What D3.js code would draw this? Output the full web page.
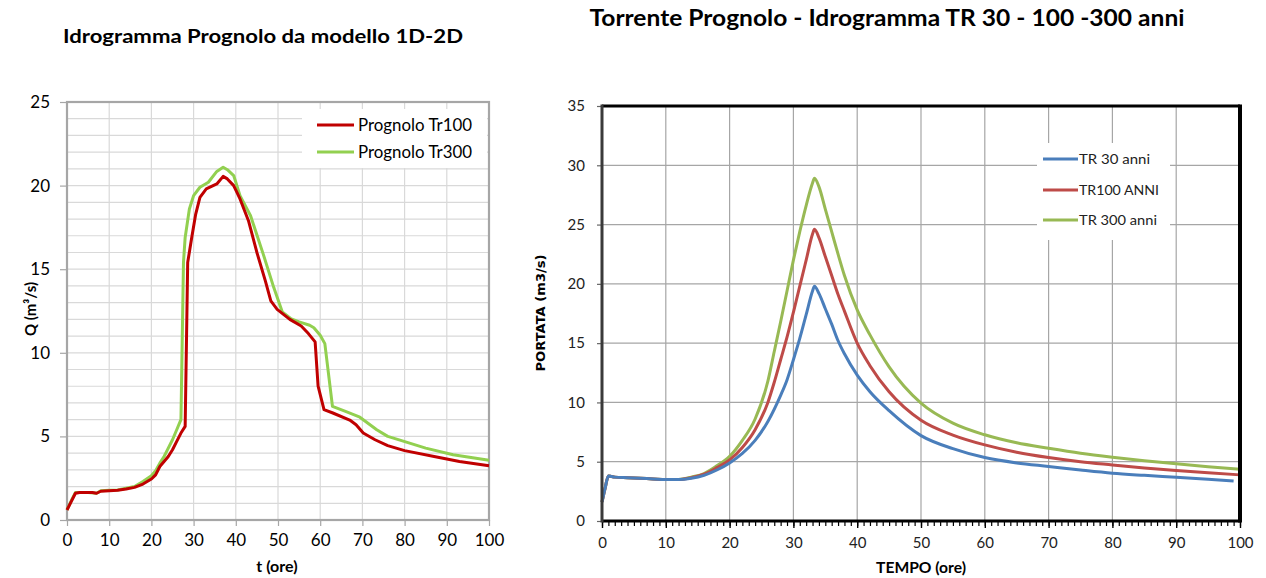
<!DOCTYPE html>
<html><head><meta charset="utf-8">
<script src="https://cdn.jsdelivr.net/npm/d3@7"></script>
<style>
html,body{margin:0;padding:0;background:#fff;}
svg{display:block;}
</style></head>
<body>
<svg id="c" width="1266" height="578" font-family="Lato, 'Open Sans', sans-serif"></svg>
<script>
// ---------- DATA: left chart ----------
const leftTitle = "Idrogramma Prognolo da modello 1D-2D";
const leftXLabel = "t (ore)";
const leftYLabel = "Q (m³/s)";
const leftXTicks = [0,10,20,30,40,50,60,70,80,90,100];
const leftYTicks = [0,5,10,15,20,25];
const tr100Name = "Prognolo Tr100";
const tr100Time = [0,1,2,3,5,6,7,8,10,12,14,16,18,20,21,22,23,24,25,26,27,28,28.6,29.5,30.5,31.5,33,35.5,37,38,39.5,41,43,45,47,48.3,49.8,52.8,55.5,57.2,58.8,59.5,60.9,63,67,68.5,70.2,73,76,80,87,93,100];
const tr100Q    = [0.6,1.1,1.6,1.65,1.65,1.65,1.6,1.72,1.75,1.78,1.85,1.95,2.15,2.45,2.7,3.2,3.5,3.8,4.2,4.7,5.2,5.6,15.4,16.8,18.3,19.3,19.8,20.1,20.55,20.4,20.0,19.2,17.9,16.0,14.3,13.1,12.6,12.0,11.6,11.15,10.65,8.0,6.6,6.4,5.98,5.7,5.2,4.8,4.45,4.15,3.8,3.5,3.25];
const tr300Name = "Prognolo Tr300";
const tr300Time = [0,1,2,5,7,8,10,12,14,16,18,20,21,22,23,24,25,26,27,27.6,28,29,30,31.5,33.5,35.5,37,38,39.5,41,43.5,46.5,49,51,53,55,57.5,58.5,60,61.1,62.9,66,69.4,73.4,76,78.9,85,91.5,100];
const tr300Q    = [0.6,1.15,1.65,1.65,1.6,1.75,1.78,1.8,1.9,2.0,2.3,2.65,2.95,3.4,3.8,4.3,4.8,5.4,6.0,15.4,16.9,18.6,19.4,19.9,20.2,20.85,21.1,20.95,20.6,19.4,18.2,15.9,13.9,12.45,12.05,11.85,11.65,11.5,11.05,10.55,6.8,6.5,6.15,5.4,5.0,4.78,4.3,3.9,3.58];

// ---------- DATA: right chart ----------
const rightTitle = "Torrente Prognolo - Idrogramma TR 30 - 100 -300 anni";
const rightXLabel = "TEMPO (ore)";
const rightYLabel = "PORTATA (m3/s)";
const rightXTicks = [0,10,20,30,40,50,60,70,80,90,100];
const rightYTicks = [0,5,10,15,20,25,30,35];
const tr30Name = "TR 30 anni";
const tr30Time = [0,0.5,1,1.5,2,4,6,8,10,12,14,16,18,20,22,24,26,28,29,30,31,32,33,33.3,34,35,36,37,38,40,42,45,50,55,60,65,70,75,80,85,90,95,99];
const tr30Q    = [1.6,2.8,3.8,3.75,3.7,3.65,3.6,3.55,3.5,3.5,3.6,3.85,4.3,4.9,5.7,6.8,8.4,10.6,11.9,13.6,15.4,17.4,19.4,19.8,19.2,17.9,16.6,15.2,14.1,12.3,10.9,9.3,7.2,6.1,5.35,4.9,4.6,4.3,4.03,3.85,3.69,3.52,3.38];
const trc100Name = "TR100 ANNI";
const trc100Time = [0,0.5,1,1.5,2,4,6,8,10,12,14,16,18,20,22,24,26,27,28,29,30,31,32,33,33.3,34,35,36,37,38,40,42,45,50,55,60,65,70,75,80,85,90,95,100];
const trc100Q    = [1.6,2.8,3.8,3.75,3.7,3.65,3.6,3.55,3.5,3.5,3.65,3.95,4.5,5.15,6.2,7.7,10.0,11.7,13.6,15.5,17.6,19.8,22.0,24.2,24.6,23.9,22.3,20.7,19.1,17.7,15.0,13.1,10.9,8.5,7.25,6.42,5.8,5.35,5.0,4.73,4.47,4.25,4.06,3.89];
const trc300Name = "TR 300 anni";
const trc300Time = [0,0.5,1,1.5,2,4,6,8,10,12,14,16,18,20,22,24,26,27,28,29,30,31,32,33,33.3,34,35,36,37,38,40,42,45,50,55,60,65,70,75,80,85,90,95,100];
const trc300Q    = [1.6,2.8,3.8,3.75,3.7,3.65,3.6,3.55,3.5,3.5,3.7,4.0,4.65,5.45,6.8,8.6,11.8,14.3,16.8,19.4,22.0,24.4,26.6,28.5,28.9,28.2,26.3,24.4,22.5,20.7,17.8,15.7,13.0,9.94,8.25,7.27,6.6,6.14,5.72,5.38,5.08,4.82,4.58,4.37];

const svg = d3.select("#c");
svg.append("rect").attr("width",1266).attr("height",578).attr("fill","#fff");

// ================= LEFT CHART =================
(function(){
  const x = d3.scaleLinear().domain([0,100]).range([67,489]);
  const y = d3.scaleLinear().domain([0,25]).range([520,102]);
  const g = svg.append("g");
  g.append("g").selectAll("line").data(d3.range(1,25)).join("line")
    .attr("x1",x(0)).attr("x2",x(100)).attr("y1",d=>y(d)).attr("y2",d=>y(d))
    .attr("stroke","#d9d9d9").attr("stroke-width",1.2);
  g.append("g").selectAll("line").data(leftXTicks.slice(1,-1)).join("line")
    .attr("x1",d=>x(d)).attr("x2",d=>x(d)).attr("y1",y(0)).attr("y2",y(25))
    .attr("stroke","#d9d9d9").attr("stroke-width",1.2);
  const ax = g.append("g").attr("transform",`translate(0,${y(0)})`)
    .call(d3.axisBottom(x).tickValues(leftXTicks).tickSize(6).tickPadding(8).tickSizeOuter(0));
  ax.select(".domain").remove();
  ax.selectAll(".tick line").attr("stroke","#a6a6a6").attr("stroke-width",1.2);
  ax.selectAll("text").style("font-size","17px").style("fill","#000").style("font-family","Lato");
  const ay = g.append("g").attr("transform",`translate(${x(0)},0)`)
    .call(d3.axisLeft(y).tickValues(leftYTicks).tickSize(7).tickPadding(10).tickSizeOuter(0));
  ay.select(".domain").remove();
  ay.selectAll(".tick line").attr("stroke","#a6a6a6").attr("stroke-width",1.2);
  ay.selectAll("text").style("font-size","17px").style("fill","#000").style("font-family","Lato");
  g.append("rect").attr("x",x(0)).attr("y",y(25)).attr("width",x(100)-x(0)).attr("height",y(0)-y(25))
    .attr("fill","none").attr("stroke","#a6a6a6").attr("stroke-width",2.2);
  g.append("rect").attr("x",302).attr("y",109).attr("width",185).attr("height",59).attr("fill","#fff");
  const line = d3.line().x(d=>x(d[0])).y(d=>y(d[1])).curve(d3.curveLinear);
  g.append("path").datum(tr300Time.map((t,i)=>[t,tr300Q[i]])).attr("d",line)
    .attr("fill","none").attr("stroke","#92d050").attr("stroke-width",3).attr("stroke-linejoin","round");
  g.append("path").datum(tr100Time.map((t,i)=>[t,tr100Q[i]])).attr("d",line)
    .attr("fill","none").attr("stroke","#c00000").attr("stroke-width",3).attr("stroke-linejoin","round");
  const leg = [[tr100Name,"#c00000",125],[tr300Name,"#92d050",152]];
  leg.forEach(([n,c,yy])=>{
    g.append("line").attr("x1",317).attr("x2",354).attr("y1",yy).attr("y2",yy).attr("stroke",c).attr("stroke-width",3.2);
    g.append("text").attr("x",358).attr("y",yy).attr("dy","0.35em").style("font-size","16.5px").style("fill","#000").text(n)
      .attr("textLength",114).attr("lengthAdjust","spacingAndGlyphs");
  });
  g.append("text").attr("x",263).attr("y",37).attr("dy","0.35em").attr("text-anchor","middle")
    .style("font-size","18px").style("font-weight","bold").text(leftTitle)
    .attr("textLength",400).attr("lengthAdjust","spacingAndGlyphs");
  g.append("text").attr("x",277).attr("y",566).attr("dy","0.35em").attr("text-anchor","middle")
    .style("font-size","16px").style("font-weight","bold").text(leftXLabel);
  g.append("text").attr("transform","translate(31,309) rotate(-90)").attr("dy","0.35em").attr("text-anchor","middle")
    .style("font-size","15px").style("font-weight","bold").text(leftYLabel);
})();

// ================= RIGHT CHART =================
(function(){
  const x = d3.scaleLinear().domain([0,100]).range([602,1240]);
  const y = d3.scaleLinear().domain([0,35]).range([521,106]);
  const g = svg.append("g");
  g.append("g").selectAll("line").data(rightYTicks.slice(1,-1)).join("line")
    .attr("x1",x(0)).attr("x2",x(100)).attr("y1",d=>y(d)).attr("y2",d=>y(d))
    .attr("stroke","#a6a6a6").attr("stroke-width",1.2);
  g.append("g").selectAll("line").data(rightXTicks.slice(1,-1)).join("line")
    .attr("x1",d=>x(d)).attr("x2",d=>x(d)).attr("y1",y(0)).attr("y2",y(35))
    .attr("stroke","#a6a6a6").attr("stroke-width",1.2);
  g.append("rect").attr("x",1037).attr("y",143).attr("width",133).attr("height",97).attr("fill","#fff");
  const mt = g.append("g").attr("transform",`translate(0,${y(0)})`)
    .call(d3.axisBottom(x).tickValues(d3.range(0,101,1)).tickSize(5).tickFormat(""));
  mt.select(".domain").remove();
  mt.selectAll(".tick line").attr("stroke","#000").attr("stroke-width",1.2);
  const ax = g.append("g").attr("transform",`translate(0,${y(0)})`)
    .call(d3.axisBottom(x).tickValues(rightXTicks).tickSize(7).tickPadding(9).tickSizeOuter(0));
  ax.select(".domain").remove();
  ax.selectAll(".tick line").attr("stroke","#000").attr("stroke-width",1.4);
  ax.selectAll("text").style("font-size","15px").style("fill","#222").style("font-family","Lato");
  const ay = g.append("g").attr("transform",`translate(${x(0)},0)`)
    .call(d3.axisLeft(y).tickValues(rightYTicks).tickSize(5).tickPadding(12).tickSizeOuter(0));
  ay.select(".domain").remove();
  ay.selectAll(".tick line").attr("stroke","#666").attr("stroke-width",1.2);
  ay.selectAll("text").style("font-size","15px").style("fill","#222").style("font-family","Lato");
  const line = d3.line().x(d=>x(d[0])).y(d=>y(d[1])).curve(d3.curveMonotoneX);
  const series = [[trc300Time,trc300Q,"#98b954"],[trc100Time,trc100Q,"#be4b48"],[tr30Time,tr30Q,"#4a7ebb"]];
  series.forEach(([T,Q,c])=>{
    g.append("path").datum(T.map((t,i)=>[t,Q[i]])).attr("d",line)
      .attr("fill","none").attr("stroke",c).attr("stroke-width",3).attr("stroke-linejoin","round");
  });
  g.append("line").attr("x1",x(0)).attr("x2",x(100)).attr("y1",y(35)).attr("y2",y(35)).attr("stroke","#000").attr("stroke-width",3);
  g.append("line").attr("x1",x(100)).attr("x2",x(100)).attr("y1",y(35)-1.5).attr("y2",y(0)+1.5).attr("stroke","#000").attr("stroke-width",4);
  g.append("line").attr("x1",x(0)).attr("x2",x(100)).attr("y1",y(0)).attr("y2",y(0)).attr("stroke","#000").attr("stroke-width",3);
  g.append("line").attr("x1",x(0)).attr("x2",x(0)).attr("y1",y(35)-1.5).attr("y2",y(0)+1.5).attr("stroke","#3a3a3a").attr("stroke-width",3);
  const leg = [[tr30Name,"#4a7ebb",159,71],[trc100Name,"#be4b48",190,80],[trc300Name,"#98b954",220,78]];
  leg.forEach(([n,c,yy,w])=>{
    g.append("line").attr("x1",1043).attr("x2",1078).attr("y1",yy).attr("y2",yy).attr("stroke",c).attr("stroke-width",3);
    g.append("text").attr("x",1079).attr("y",yy).attr("dy","0.35em").style("font-size","14px").style("fill","#222").text(n)
      .attr("textLength",w).attr("lengthAdjust","spacingAndGlyphs");
  });
  g.append("text").attr("x",887).attr("y",18).attr("dy","0.35em").attr("text-anchor","middle")
    .style("font-size","22px").style("font-weight","bold").text(rightTitle)
    .attr("textLength",595).attr("lengthAdjust","spacingAndGlyphs");
  g.append("text").attr("x",921).attr("y",568).attr("dy","0.35em").attr("text-anchor","middle")
    .style("font-size","15px").style("font-weight","bold").text(rightXLabel)
    .attr("textLength",90).attr("lengthAdjust","spacingAndGlyphs");
  g.append("text").attr("transform","translate(541,313) rotate(-90)").attr("dy","0.35em").attr("text-anchor","middle")
    .style("font-family","'DejaVu Sans'").style("font-size","12px").style("font-weight","bold").text(rightYLabel)
    .attr("textLength",117).attr("lengthAdjust","spacingAndGlyphs");
})();
</script>
</body></html>
